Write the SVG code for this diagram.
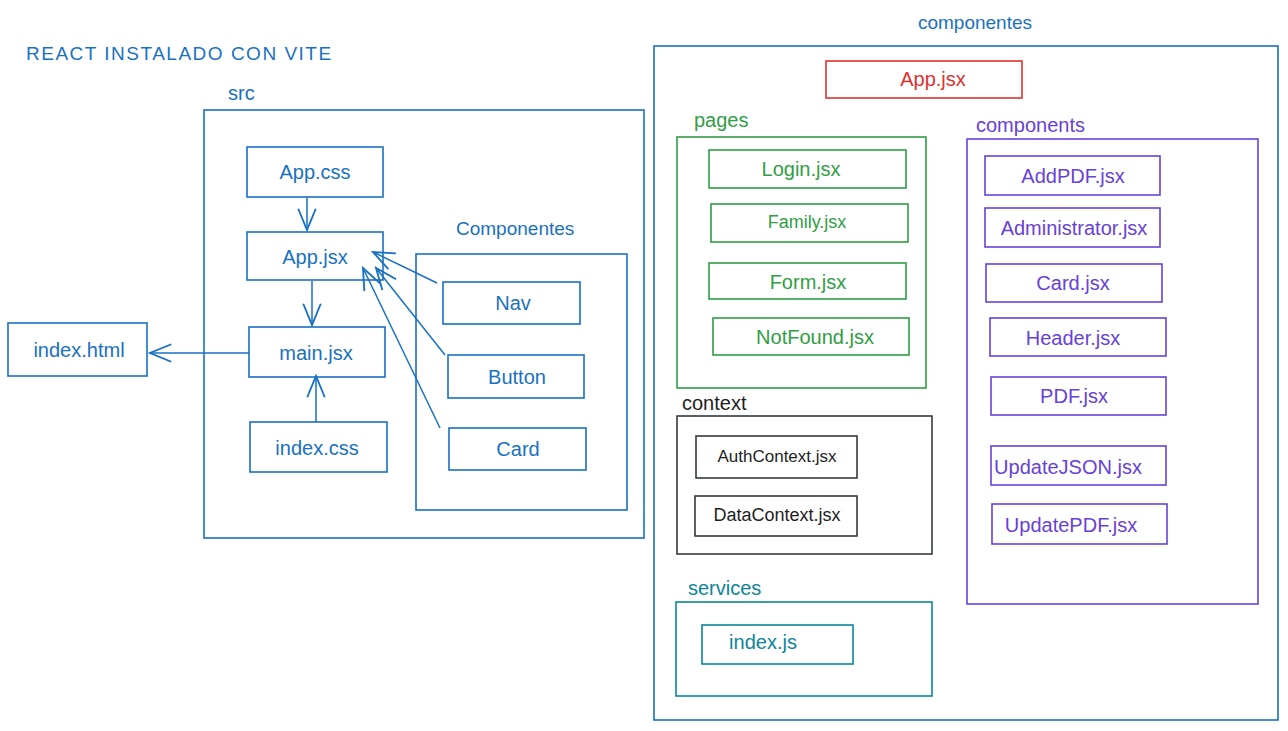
<svg xmlns="http://www.w3.org/2000/svg" width="1288" height="731" viewBox="0 0 1288 731">
<defs>
<style>
text{font-family:"Liberation Sans","DejaVu Sans",sans-serif;font-size:20px;text-anchor:middle;dominant-baseline:central}
.lbl{text-anchor:start}
rect{fill:none;stroke-width:1.6}
.b{stroke:#1971c2}.bt{fill:#1971c2}
.r{stroke:#e03131}.rt{fill:#e03131}
.g{stroke:#2f9e44}.gt{fill:#2f9e44}
.p{stroke:#6741d9}.pt{fill:#6741d9}
.k{stroke:#343a40}.kt{fill:#1e1e1e}
.t{stroke:#0c8599}.tt{fill:#0c8599}
.edge{stroke:#1971c2;stroke-width:1.5;fill:none}
</style>
<marker id="ah" markerUnits="userSpaceOnUse" markerWidth="30" markerHeight="30" viewBox="-20 -10 24 20" refX="0" refY="0" orient="auto">
<path d="M-17,-7 L0,0 L-17,7" fill="none" stroke="#1971c2" stroke-width="1.5"/>
</marker>
</defs>
<rect x="0" y="0" width="1288" height="731" fill="#ffffff" stroke="none"/>

<text class="bt lbl" x="26" y="53" style="font-size:19px;letter-spacing:1.5px">REACT INSTALADO CON VITE</text>

<g id="src">
<text class="bt lbl" x="228" y="93" style="font-size:20px">src</text>
<rect class="b" x="204" y="110" width="440" height="428"/>
</g>
<g id="app-css"><rect class="b" x="247" y="147" width="136" height="50"/><text class="bt" x="315" y="172">App.css</text></g>
<g id="app-jsx"><rect class="b" x="247" y="232" width="136" height="48"/><text class="bt" x="315" y="257">App.jsx</text></g>
<g id="main-jsx"><rect class="b" x="249" y="327" width="136" height="50"/><text class="bt" x="316" y="353">main.jsx</text></g>
<g id="index-css"><rect class="b" x="250" y="422" width="137" height="50"/><text class="bt" x="317" y="448">index.css</text></g>
<g id="index-html"><rect class="b" x="8" y="323" width="139" height="53"/><text class="bt" x="79" y="350">index.html</text></g>
<g id="componentes-left">
<text class="bt lbl" x="456" y="228" style="font-size:19px">Componentes</text>
<rect class="b" x="416" y="254" width="211" height="256"/>
</g>
<g id="nav"><rect class="b" x="443" y="282" width="137" height="42"/><text class="bt" x="513" y="303">Nav</text></g>
<g id="button"><rect class="b" x="448" y="355" width="136" height="43"/><text class="bt" x="517" y="377">Button</text></g>
<g id="card"><rect class="b" x="449" y="428" width="137" height="42"/><text class="bt" x="518" y="449">Card</text></g>

<g id="connectors">
<line class="edge" x1="307" y1="198" x2="307" y2="230" marker-end="url(#ah)"/>
<line class="edge" x1="312" y1="281" x2="312" y2="325" marker-end="url(#ah)"/>
<line class="edge" x1="316" y1="422" x2="316" y2="376" marker-end="url(#ah)"/>
<line class="edge" x1="249" y1="353" x2="150" y2="353" marker-end="url(#ah)"/>
<line class="edge" x1="437" y1="283" x2="373" y2="252" marker-end="url(#ah)"/>
<line class="edge" x1="445" y1="355" x2="376" y2="268" marker-end="url(#ah)"/>
<line class="edge" x1="440" y1="428" x2="363" y2="268" marker-end="url(#ah)"/>
</g>

<g id="componentes-right">
<text class="bt" x="975" y="22" style="font-size:19px">componentes</text>
<rect class="b" x="654" y="46" width="624" height="674"/>
</g>
<g id="app-jsx-red"><rect class="r" x="826" y="61" width="196" height="37"/><text class="rt" x="933" y="79">App.jsx</text></g>

<g id="pages">
<text class="gt lbl" x="694" y="120">pages</text>
<rect class="g" x="677" y="137" width="249" height="251"/>
</g>
<g id="login"><rect class="g" x="709" y="150" width="197" height="38"/><text class="gt" x="801" y="169">Login.jsx</text></g>
<g id="family"><rect class="g" x="711" y="204" width="197" height="38"/><text class="gt" x="807" y="222" style="font-size:18px">Family.jsx</text></g>
<g id="form"><rect class="g" x="709" y="263" width="197" height="36"/><text class="gt" x="808" y="282">Form.jsx</text></g>
<g id="notfound"><rect class="g" x="713" y="318" width="196" height="37"/><text class="gt" x="815" y="337">NotFound.jsx</text></g>

<g id="components">
<text class="pt lbl" x="976" y="125">components</text>
<rect class="p" x="967" y="139" width="291" height="465"/>
</g>
<g id="addpdf"><rect class="p" x="985" y="156" width="175" height="39"/><text class="pt" x="1073" y="176">AddPDF.jsx</text></g>
<g id="administrator"><rect class="p" x="985" y="208" width="175" height="39"/><text class="pt" x="1074" y="228">Administrator.jsx</text></g>
<g id="card-jsx"><rect class="p" x="986" y="264" width="176" height="38"/><text class="pt" x="1073" y="283">Card.jsx</text></g>
<g id="header"><rect class="p" x="990" y="318" width="176" height="38"/><text class="pt" x="1073" y="338">Header.jsx</text></g>
<g id="pdf"><rect class="p" x="991" y="377" width="175" height="38"/><text class="pt" x="1074" y="396">PDF.jsx</text></g>
<g id="updatejson"><rect class="p" x="991" y="446" width="175" height="39"/><text class="pt" x="1068" y="467">UpdateJSON.jsx</text></g>
<g id="updatepdf"><rect class="p" x="992" y="504" width="175" height="40"/><text class="pt" x="1071" y="525">UpdatePDF.jsx</text></g>

<g id="context">
<text class="kt lbl" x="682" y="403">context</text>
<rect class="k" x="677" y="416" width="255" height="138"/>
</g>
<g id="authcontext"><rect class="k" x="696" y="436" width="161" height="42"/><text class="kt" x="777" y="456" style="font-size:17px">AuthContext.jsx</text></g>
<g id="datacontext"><rect class="k" x="695" y="496" width="162" height="40"/><text class="kt" x="777" y="515" style="font-size:18px">DataContext.jsx</text></g>

<g id="services">
<text class="tt lbl" x="688" y="588">services</text>
<rect class="t" x="676" y="602" width="256" height="94"/>
</g>
<g id="index-js"><rect class="t" x="702" y="625" width="151" height="39"/><text class="tt" x="763" y="642">index.js</text></g>
</svg>
